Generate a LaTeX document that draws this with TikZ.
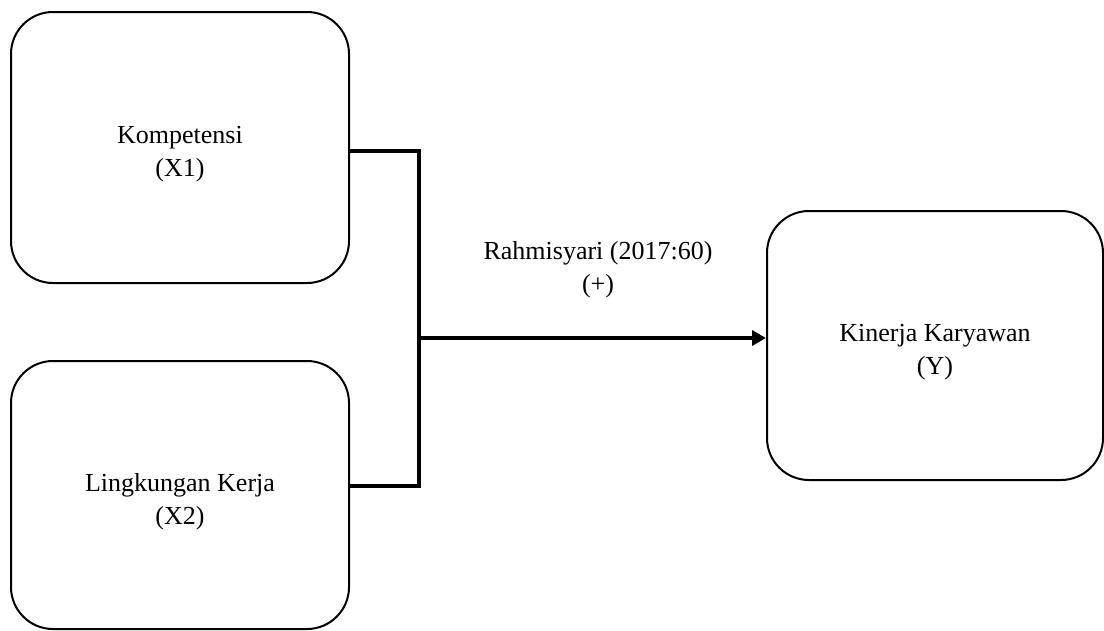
\documentclass[tikz,border=0pt]{standalone}
\usepackage{fontspec}
\setmainfont{Liberation Serif}
\usetikzlibrary{arrows.meta}
\newcommand{\downstrut}{\rule{0pt}{31pt}}
\begin{document}
\begin{tikzpicture}[x=1pt,y=-1pt,
  varbox/.style={draw=black, line width=2pt, rounded corners=42pt, align=center,
    font=\fontsize{26}{33}\selectfont, inner sep=0pt},
  conn/.style={draw=black, line width=3.6pt},
  lbl/.style={align=center, font=\fontsize{26}{33}\selectfont, inner sep=0pt}]
\useasboundingbox (0,0) rectangle (1104,630);
\node[varbox, minimum width=338pt, minimum height=271pt] (x1) at (180,147.5) {\downstrut Kompetensi\\(X1)};
\node[varbox, minimum width=338pt, minimum height=268pt] (x2) at (180,495) {\downstrut Lingkungan Kerja\\(X2)};
\node[varbox, minimum width=336pt, minimum height=269pt] (y) at (935,345.5) {\downstrut Kinerja Karyawan\\(Y)};
\coordinate (j) at (419,338);
\draw[conn] ([yshift=-3.5pt]x1.east) -| ([yshift=-1.8pt]j);
\draw[conn] ([yshift=9pt]x2.east) -| ([yshift=1.8pt]j);
\draw[conn, -{Triangle[length=14pt,width=15pt]}] (j) -- (j -| y.west);
\node[lbl] (lab) at (598,270) {Rahmisyari (2017:60)\\(+)};
\end{tikzpicture}
\end{document}
